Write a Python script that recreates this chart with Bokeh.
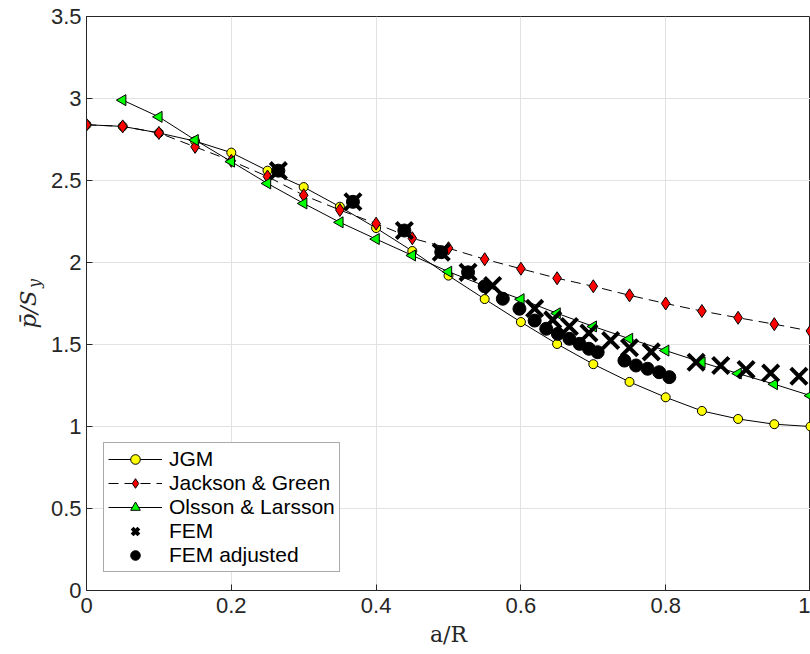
from math import pi
from bokeh.plotting import figure
from bokeh.layouts import row
from bokeh.models import FixedTicker, Range1d
from bokeh.core.properties import value
from bokeh.embed import file_html
from bokeh.resources import INLINE

# ---- data ----
x_std = [0.0, 0.05, 0.1, 0.15, 0.2, 0.25, 0.3, 0.35, 0.4, 0.45, 0.5,
         0.55, 0.6, 0.65, 0.7, 0.75, 0.8, 0.85, 0.9, 0.95, 1.0]
jgm_y = [2.84, 2.83, 2.79, 2.74, 2.67, 2.56, 2.46, 2.34, 2.21, 2.07, 1.92,
         1.777, 1.637, 1.503, 1.38, 1.272, 1.178, 1.095, 1.046, 1.014, 1.0]
jg_y = [2.84, 2.83, 2.79, 2.705, 2.62, 2.524, 2.41, 2.32, 2.237, 2.148, 2.087,
        2.02, 1.962, 1.904, 1.855, 1.80, 1.75, 1.704, 1.663, 1.624, 1.582]
ol_x = [0.05, 0.1, 0.15, 0.2, 0.25, 0.3, 0.35, 0.4, 0.45, 0.5,
        0.55, 0.6, 0.65, 0.7, 0.75, 0.8, 0.85, 0.9, 0.95, 1.0]
ol_y = [2.99, 2.888, 2.747, 2.615, 2.482, 2.36, 2.245, 2.143, 2.043, 1.944,
        1.857, 1.776, 1.69, 1.61, 1.535, 1.463, 1.391, 1.323, 1.258, 1.188]
fem_x = [0.265, 0.368, 0.439, 0.490, 0.527, 0.561, 0.619, 0.644, 0.667, 0.694,
         0.724, 0.750, 0.780, 0.842, 0.876, 0.911, 0.945, 0.984]
fem_y = [2.56, 2.37, 2.195, 2.063, 1.94, 1.86, 1.72, 1.65, 1.61, 1.57,
         1.524, 1.48, 1.455, 1.392, 1.372, 1.347, 1.326, 1.306]
femadj_x = [0.265, 0.368, 0.439, 0.490, 0.527, 0.550, 0.575, 0.598, 0.619, 0.635,
            0.651, 0.667, 0.681, 0.694, 0.706, 0.743, 0.759, 0.775, 0.791, 0.805]
femadj_y = [2.56, 2.37, 2.195, 2.063, 1.94, 1.855, 1.779, 1.718, 1.646, 1.596,
            1.565, 1.535, 1.504, 1.474, 1.453, 1.402, 1.372, 1.352, 1.331, 1.301]

x_ticks = [0.0, 0.2, 0.4, 0.6, 0.8, 1.0]
x_tick_labels = ["0", "0.2", "0.4", "0.6", "0.8", "1"]
y_ticks = [0.0, 0.5, 1.0, 1.5, 2.0, 2.5, 3.0, 3.5]
y_tick_labels = ["0", "0.5", "1", "1.5", "2", "2.5", "3", "3.5"]

names = ["JGM", "Jackson & Green", "Olsson & Larsson", "FEM", "FEM adjusted"]
x_title = "a/R"
y_title_main = "p\u0304/S"
y_title_sub = "y"

# ---- style ----
DARK = "#262626"
SANS = "Liberation Sans"
SERIF = "DejaVu Serif"
H = 654
LEFT_W = 46
FRAME_LEFT = 86
FRAME_TOP = 16
FRAME_BOTTOM = 590

# narrow strip on the left holding the y-axis title (main text + subscript);
# its frame is aligned with the main plot frame, so map canvas rows directly
lab = figure(width=LEFT_W, height=H, x_range=Range1d(0, LEFT_W),
             y_range=Range1d(H - FRAME_BOTTOM, H - FRAME_TOP),
             output_backend="svg", toolbar_location=None,
             x_axis_type=None, y_axis_type=None, min_border=0)
lab.outline_line_color = None
lab.background_fill_color = "white"
lab.border_fill_color = "white"
lab.text(x=[27], y=[H - 309], text=[y_title_main], angle=pi / 2,
         text_align="center", text_baseline="alphabetic",
         text_font=value(SERIF), text_font_style="italic", text_font_size="23px",
         text_color=DARK)
lab.text(x=[34], y=[H - 283], text=[y_title_sub], angle=pi / 2,
         text_align="center", text_baseline="alphabetic",
         text_font=value(SERIF), text_font_style="italic", text_font_size="16px",
         text_color=DARK)

p = figure(width=810 - LEFT_W, height=H, x_range=Range1d(0, 1), y_range=Range1d(0, 3.5),
           output_backend="svg", toolbar_location=None,
           min_border_left=FRAME_LEFT - LEFT_W, min_border_right=0, min_border_top=FRAME_TOP,
           min_border_bottom=H - FRAME_BOTTOM)
p.background_fill_color = "white"
p.border_fill_color = "white"
p.outline_line_color = DARK
p.outline_line_width = 1

# series (drawn in MATLAB order)
p.line(x_std, jgm_y, line_color="black", line_width=1, legend_label=names[0])
p.scatter(x_std, jgm_y, marker="circle", size=9, fill_color="#ffff00",
          line_color="black", line_width=1, legend_label=names[0])

p.line(x_std, jg_y, line_color="black", line_width=1, line_dash="10 6", legend_label=names[1])
p.scatter(x_std, jg_y, marker="diamond", size=13, fill_color="#ff0000",
          line_color="black", line_width=1, legend_label=names[1])

p.line(ol_x, ol_y, line_color="black", line_width=1, legend_label=names[2])
p.scatter(ol_x, ol_y, marker="triangle", angle=pi / 2, size=11, fill_color="#00ff00",
          line_color="black", line_width=1, legend_label=names[2])

p.scatter(fem_x, fem_y, marker="x", size=23, line_color="black", line_width=4,
          legend_label=names[3])
p.scatter(femadj_x, femadj_y, marker="circle", size=13, fill_color="black",
          line_color="black", line_width=1, legend_label=names[4])

# axes
p.xaxis.ticker = FixedTicker(ticks=x_ticks)
p.yaxis.ticker = FixedTicker(ticks=y_ticks)
p.xaxis.major_label_overrides = dict(zip(x_ticks, x_tick_labels))
p.yaxis.major_label_overrides = dict(zip(y_ticks, y_tick_labels))
for ax in (p.xaxis[0], p.yaxis[0]):
    ax.major_tick_in = 6
    ax.major_tick_out = 0
    ax.minor_tick_line_color = None
    ax.axis_line_color = DARK
    ax.major_tick_line_color = DARK
    ax.major_label_text_font = SANS
    ax.major_label_text_font_size = "22px"
    ax.major_label_text_color = DARK
p.yaxis.major_label_standoff = 5
p.xaxis.major_label_standoff = 7

p.xaxis.axis_label = x_title
p.xaxis.axis_label_text_font = SERIF
p.xaxis.axis_label_text_font_style = "normal"
p.xaxis.axis_label_text_font_size = "22px"
p.xaxis.axis_label_text_color = DARK
p.xaxis.axis_label_standoff = 6

# grid
p.xgrid.grid_line_color = "#e2e2e2"
p.ygrid.grid_line_color = "#e2e2e2"
p.xgrid.grid_line_width = 1
p.ygrid.grid_line_width = 1

# legend
lg = p.legend[0]
lg.location = (17, 18)
lg.border_line_color = "#555555"
lg.border_line_width = 1
lg.background_fill_color = "white"
lg.background_fill_alpha = 1
lg.label_text_font = SANS
lg.label_text_font_size = "21px"
lg.label_text_color = "black"
lg.glyph_width = 54
lg.glyph_height = 24
lg.label_height = 24
lg.label_standoff = 7
lg.padding = 4
lg.spacing = 0
lg.margin = 0

layout = row(lab, p, spacing=0)
open("out.html", "w").write(file_html(layout, INLINE))
